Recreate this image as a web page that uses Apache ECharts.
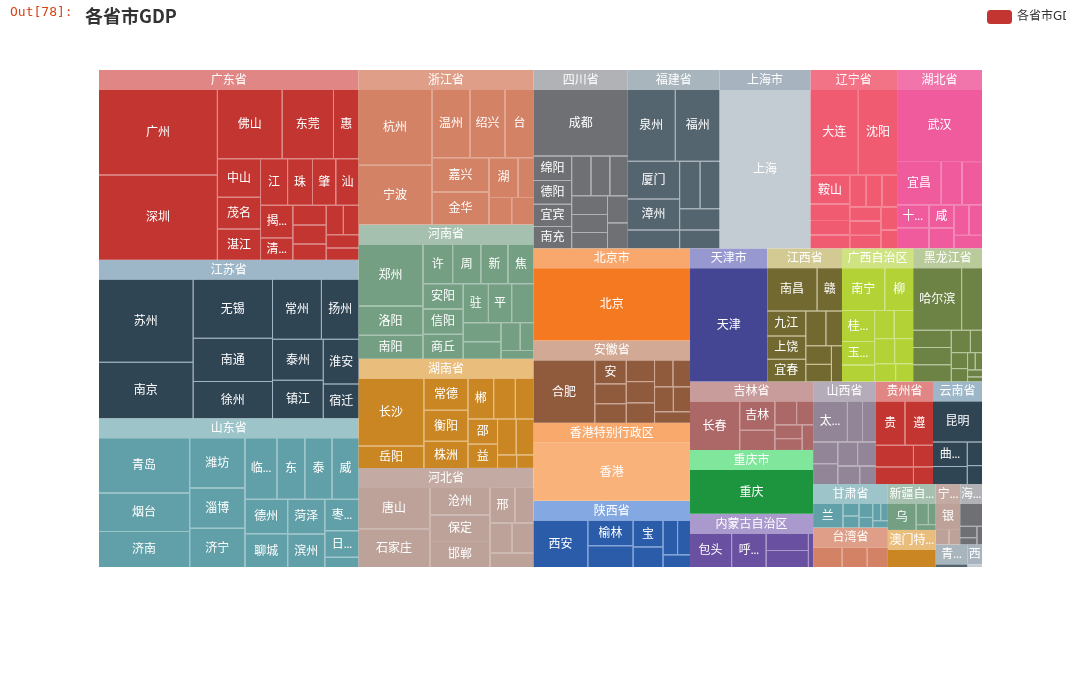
<!DOCTYPE html>
<html><head><meta charset="utf-8">
<script src="https://cdn.jsdelivr.net/npm/echarts@6/dist/echarts.min.js"></script>
<style>html,body{margin:0;padding:0;background:#fff;}#c{width:1066px;height:682px;}</style>
</head><body><div id="c"></div>
<script>
// ---- data (亿元) ----
const gd = [["广州",19547],["深圳",19492],["佛山",8630],["东莞",6828],["惠州",3412],["中山",3203],["茂名",2637],["湛江",2585],["江门",2419],["珠海",2226],["肇庆",2084],["汕头",2081],["揭阳",2032],["清远",1388],["阳江",1270],["韶关",1218],["梅州",1045],["潮州",977],["河源",897],["汕尾",829],["云浮",775]];
const js = [["苏州",15475],["南京",10503],["无锡",9210],["南通",6768],["徐州",5809],["常州",5774],["扬州",4450],["泰州",4101],["镇江",3834],["淮安",3150],["宿迁",2450]];
const sd = [["青岛",10011],["烟台",6926],["济南",6536],["潍坊",5522],["淄博",4412],["济宁",4302],["临沂",3900],["东营",3400],["泰安",3310],["威海",3300],["德州",2933],["聊城",2859],["菏泽",2560],["滨州",2470],["枣庄",2142],["日照",1802],["莱芜",702]];
const zj = [["杭州",11050],["宁波",8686],["温州",5101],["绍兴",4710],["台州",3899],["嘉兴",3862],["金华",3685],["湖州",2284],["衢州",1250],["舟山",1229],["丽水",1210]];
const hen = [["郑州",8114],["洛阳",3820],["南阳",3115],["许昌",2378],["周口",2257],["新乡",2166],["焦作",2095],["安阳",2045],["信阳",2040],["商丘",2030],["驻马店",1973],["平顶山",1826],["开封",1755],["濮阳",1450],["三门峡",1328],["漯河",1080],["鹤壁",780],["济源",575]];
const hun = [["长沙",9324],["岳阳",3101],["常德",2955],["衡阳",2852],["株洲",2513],["郴州",2190],["湘潭",1844],["永州",1600],["邵阳",1550],["益阳",1500],["娄底",1400],["怀化",1350],["湘西",539],["张家界",490]];
const heb = [["唐山",6355],["石家庄",5928],["沧州",3545],["保定",3435],["邯郸",3337],["邢台",1900],["张家口",1436],["承德",1432],["衡水",1420],["秦皇岛",1350]];
const sc = [["成都",12170],["绵阳",1830],["德阳",1753],["宜宾",1653],["南充",1651],["泸州",1482],["达州",1448],["乐山",1407],["内江",1297],["自贡",1234],["眉山",1117],["广安",1079],["遂宁",1030]];
const fj = [["泉州",6647],["福州",6198],["厦门",3784],["漳州",3125],["龙岩",1895],["三明",1861],["莆田",1823],["宁德",1663],["南平",1457]];
const sh = [["上海",28179]];
const ln = [["大连",7960],["沈阳",6470],["鞍山",2190],["营口",1250],["抚顺",1100],["锦州",1050],["盘锦",1000],["本溪",950],["丹东",950],["辽阳",850],["朝阳",850],["葫芦岛",800],["铁岭",750],["阜新",600]];
const hub = [["武汉",11913],["宜昌",3709],["荆州",1726],["黄冈",1700],["十堰",1429],["黄石",1305],["咸宁",1107],["荆门",1000],["随州",885],["鄂州",797],["恩施",735]];
const bj = [["北京",25100]];
const ah = [["合肥",8770],["安庆",1680],["滁州",1400],["阜阳",1380],["蚌埠",1370],["宿州",1351],["马鞍山",1300],["六安",1108],["宣城",1057],["亳州",1046],["铜陵",958],["淮南",941]];
const hk = [["香港",21210]];
const snx = [["西安",6257],["榆林",2773],["咸阳",2396],["宝鸡",1932],["渭南",1489],["汉中",1216],["延安",1082],["安康",842]];
const tj = [["天津",17885]];
const jx = [["南昌",4355],["赣州",2200],["九江",1950],["上饶",1811],["宜春",1770],["吉安",1400],["抚州",1150],["新余",950],["萍乡",900],["景德镇",800]];
const gx = [["南宁",3703],["柳州",2477],["桂林",2055],["玉林",1553],["百色",1114],["钦州",1102],["梧州",1100],["北海",1007],["贵港",958],["崇左",766],["河池",660]];
const hlj = [["哈尔滨",6101],["大庆",2610],["牡丹江",1336],["齐齐哈尔",1325],["绥化",1317],["佳木斯",855],["黑河",543],["鸡西",518],["双鸭山",433],["鹤岗",265],["伊春",251],["七台河",209],["大兴安岭",149]];
const jl = [["长春",5929],["吉林",2453],["松原",1700],["四平",1240],["通化",970],["延边",900],["辽源",770],["白山",700]];
const cq = [["重庆",13630]];
const nmg = [["包头",3868],["呼和浩特",3174],["通辽",1949],["赤峰",1933],["乌海",480]];
const shx = [["太原",3000],["临汾",1300],["晋中",1200],["晋城",1150],["大同",1100],["吕梁",1000],["朔州",950],["忻州",850],["阳泉",650]];
const gz = [["贵阳",2743],["遵义",2648],["毕节",1730],["六盘水",1400],["铜仁",910],["安顺",740]];
const yn = [["昆明",4300],["曲靖",1776],["玉溪",1312],["昭通",750],["保山",600]];
const gs = [["兰州",2264],["庆阳",610],["天水",590],["酒泉",580],["白银",440],["武威",420],["张掖",400],["平凉",350]];
const tw = [["台北",2000],["新北",1700],["台中",1430]];
const xj = [["乌鲁木齐",2250],["克拉玛依",750],["哈密",480],["吐鲁番",340]];
const am = [["澳门",3080]];
const nx = [["银川",1617],["石嘴山",520],["吴忠",440]];
const hi = [["海口",1257],["三亚",475],["儋州",300],["琼海",250]];
const qh = [["西宁",1248]];
const xz = [["拉萨",570]];

const provinces = [
  ["广东省",gd],["江苏省",js],["山东省",sd],["浙江省",zj],["河南省",hen],["湖南省",hun],["河北省",heb],
  ["四川省",sc],["福建省",fj],["上海市",sh],["辽宁省",ln],["湖北省",hub],["北京市",bj],["安徽省",ah],
  ["香港特别行政区",hk],["陕西省",snx],["天津市",tj],["江西省",jx],["广西自治区",gx],["黑龙江省",hlj],
  ["吉林省",jl],["重庆市",cq],["内蒙古自治区",nmg],["山西省",shx],["贵州省",gz],["云南省",yn],["甘肃省",gs],
  ["台湾省",tw],["新疆自治区",xj],["澳门特别行政区",am],["宁夏自治区",nx],["海南省",hi],["青海省",qh],["西藏自治区",xz]
];
const palette = ["#c23531","#2f4554","#61a0a8","#d48265","#749f83","#ca8622","#bda29a","#6e7074","#546570","#c4ccd3","#f05b72","#ef5b9c","#f47920","#905a3d","#fab27b","#2a5caa","#444693","#726930","#b2d235","#6d8346","#ac6767","#1d953f","#6950a1","#918597"];

const treeData = provinces.map(function(p, i){
  return {
    name: p[0],
    itemStyle: {color: palette[i % palette.length]},
    children: p[1].map(function(c){ return {name: c[0], value: c[1]}; })
  };
});

const labelFont = 'Lato, "Noto Sans CJK SC", sans-serif';
const chart = echarts.init(document.getElementById('c'), null, {renderer:'canvas'});
chart.setOption({
  backgroundColor: '#ffffff',
  animation: false,
  title: {text: '各省市GDP', left: 80, top: 2, textStyle: {fontSize: 18, fontWeight: 'bold', color: '#333', fontFamily: '"Noto Sans CJK SC", sans-serif'}},
  legend: {data: [{name:'各省市GDP', itemStyle:{color:'#c23531'}}], left: 982, top: 5, itemWidth: 25, itemHeight: 14, textStyle:{color:'#333', fontSize:12, fontFamily: '"DejaVu Sans", "Noto Sans CJK SC", sans-serif'}},
  graphic: [{type:'text', left: 10, top: 6, style:{text:'Out[78]:', fill:'#d84315', font:'13px "DejaVu Sans Mono", monospace'}}],
  series: [{
    type: 'treemap',
    name: '各省市GDP',
    left: 99, top: 70, width: 883, height: 497,
    roam: false,
    nodeClick: false,
    breadcrumb: {show: false},
    label: {show: true, color: '#fff', fontSize: 12, lineHeight: 11, padding: [5, 4.5], position: 'inside', overflow: 'truncate', ellipsis: '...', fontFamily: labelFont},
    upperLabel: {show: true, height: 20, color: '#fff', fontSize: 12, position: 'inside', overflow: 'truncate', ellipsis: '...', fontFamily: labelFont},
    levels: [
      {itemStyle: {borderWidth: 0, gapWidth: 0}, upperLabel: {show: false}},
      {itemStyle: {borderWidth: 0, gapWidth: 1, borderColorSaturation: 0.7}, upperLabel: {show: true}},
      {itemStyle: {borderWidth: 0, gapWidth: 0}}
    ],
    data: treeData
  }]
});
</script></body></html>
